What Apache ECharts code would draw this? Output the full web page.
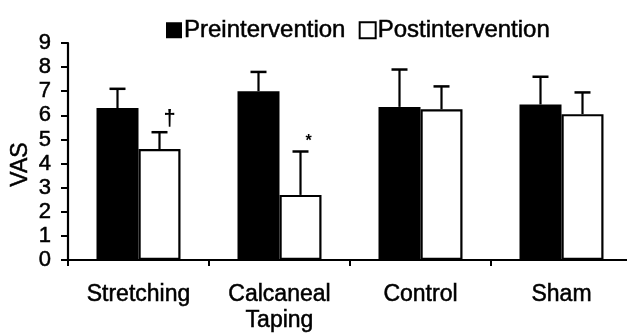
<!DOCTYPE html>
<html>
<head>
<meta charset="utf-8">
<script src="https://cdn.jsdelivr.net/npm/echarts@6/dist/echarts.min.js"></script>
<style>html,body{margin:0;padding:0;background:#fff}#c{width:627px;height:333px}</style>
</head>
<body>
<div id="c"></div>
<script>
const categories = ['Stretching', 'Calcaneal\nTaping', 'Control', 'Sham'];
const preMean = [6.3, 7.0, 6.35, 6.45];
const preSD = [0.8, 0.8, 1.55, 1.15];
const postMean = [4.6, 2.7, 6.25, 6.05];
const postSD = [0.7, 1.8, 0.95, 0.9];
const postMarks = ['†', '*', '', ''];
const yTicks = [0, 1, 2, 3, 4, 5, 6, 7, 8, 9];

const FONT = 'Liberation Sans, Arial, sans-serif';
const BAR_W = 42;
const THICK = { textBorderColor: '#000', textBorderWidth: 0.5 };

const chart = echarts.init(document.getElementById('c'));

function errorSeries(name, means, sds, offset, marks) {
  return {
    type: 'custom',
    name: name + ' err',
    z: 5,
    silent: true,
    data: means.map((m, i) => [i, m, m + sds[i]]),
    renderItem: function (params, api) {
      const base = api.coord([api.value(0), api.value(1)]);
      const top = api.coord([api.value(0), api.value(2)]);
      const x = base[0] + offset;
      const children = [
        { type: 'line', shape: { x1: x, y1: base[1], x2: x, y2: top[1] }, style: { stroke: '#000', lineWidth: 2.2 } },
        { type: 'line', shape: { x1: x - 8, y1: top[1], x2: x + 8, y2: top[1] }, style: { stroke: '#000', lineWidth: 2.5 } }
      ];
      const mk = marks ? marks[params.dataIndex] : '';
      if (mk === '†') {
        children.push({ type: 'text', style: { text: mk, x: x + 10, y: top[1] - 13, align: 'center', verticalAlign: 'middle', fontSize: 22, fontWeight: 'bold', fontFamily: FONT, fill: '#000' } });
      } else if (mk === '*') {
        children.push({ type: 'text', style: { text: mk, x: x + 8, y: top[1] - 10, align: 'center', verticalAlign: 'middle', fontSize: 16, fontWeight: 'bold', fontFamily: FONT, fill: '#000' } });
      }
      return { type: 'group', children: children };
    }
  };
}

chart.setOption({
  animation: false,
  backgroundColor: '#fff',
  textStyle: { fontFamily: FONT },
  legend: {
    left: 161, top: 13,
    itemWidth: 16, itemHeight: 16, itemGap: 13,
    textStyle: Object.assign({ fontSize: 24, color: '#000', fontFamily: FONT, padding: [0, 0, 0, -3] }, THICK),
    data: [
      { name: 'Preintervention', icon: 'rect', itemStyle: { color: '#000', borderWidth: 0 } },
      { name: 'Postintervention', icon: 'rect', itemStyle: { color: '#fff', borderColor: '#000', borderWidth: 2 } }
    ]
  },
  grid: { left: 68, top: 43, bottom: 73, right: -5, containLabel: false, outerBoundsMode: 'none' },
  xAxis: {
    type: 'category',
    data: categories,
    axisLine: { lineStyle: { color: '#000', width: 2 } },
    axisTick: { show: true, length: 6, lineStyle: { color: '#000', width: 2 } },
    axisLabel: Object.assign({ color: '#000', fontSize: 23, margin: 22, lineHeight: 26, fontFamily: FONT }, THICK)
  },
  yAxis: {
    type: 'value',
    min: 0, max: 9, interval: 1,
    name: 'VAS',
    nameLocation: 'middle',
    nameGap: 36,
    nameMoveOverlap: false,
    nameTextStyle: Object.assign({ color: '#000', fontSize: 23, fontFamily: FONT, padding: [0, 26, 0, 0] }, THICK),
    splitLine: { show: false },
    axisLine: { show: true, lineStyle: { color: '#000', width: 2.2 } },
    axisTick: { show: true, length: 7, lineStyle: { color: '#000', width: 2 } },
    axisLabel: Object.assign({ color: '#000', fontSize: 22, margin: 17, fontFamily: FONT, formatter: v => String(yTicks[v] !== undefined ? yTicks[v] : v) }, THICK)
  },
  series: [
    {
      name: 'Preintervention', type: 'bar', barWidth: BAR_W, barGap: '0%',
      data: preMean, itemStyle: { color: '#000', borderColor: '#000', borderWidth: 0 }, z: 2
    },
    {
      name: 'Postintervention', type: 'bar', barWidth: BAR_W, barGap: '0%',
      data: postMean, itemStyle: { color: '#fff', borderColor: '#000', borderWidth: 2.2 }, z: 2
    },
    errorSeries('Preintervention', preMean, preSD, -BAR_W / 2),
    errorSeries('Postintervention', postMean, postSD, BAR_W / 2, postMarks)
  ]
});
</script>
</body>
</html>
